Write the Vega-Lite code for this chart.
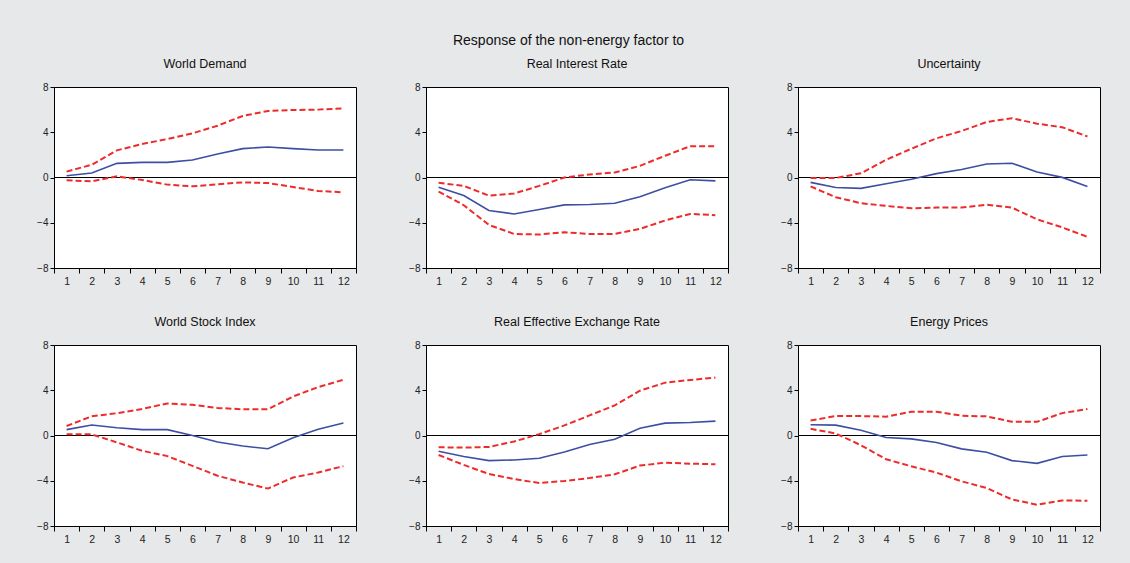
{
  "$schema": "https://vega.github.io/schema/vega-lite/v6.json",
  "background": "#e7e8e9",
  "padding": {"left": 36, "top": 34, "right": 29, "bottom": 19},
  "title": {"text": "Response of the non-energy factor to", "fontSize": 14, "font": "Liberation Sans", "fontWeight": "normal", "color": "#111111", "anchor": "middle", "offset": 9},
  "config": {
    "font": "Liberation Sans",
    "view": {"stroke": "#000000", "strokeWidth": 1, "fill": "#ffffff"},
    "axis": {"domainColor": "#000000", "tickColor": "#000000", "labelColor": "#222222", "grid": false, "title": null, "tickSize": 4}
  },
  "data": {"values": [
    {"p":"World Demand","h":1,"m":0.16,"u":0.52,"l":-0.25},
    {"p":"World Demand","h":2,"m":0.4,"u":1.13,"l":-0.34},
    {"p":"World Demand","h":3,"m":1.25,"u":2.4,"l":0.1},
    {"p":"World Demand","h":4,"m":1.34,"u":2.96,"l":-0.22},
    {"p":"World Demand","h":5,"m":1.34,"u":3.4,"l":-0.63},
    {"p":"World Demand","h":6,"m":1.55,"u":3.9,"l":-0.78},
    {"p":"World Demand","h":7,"m":2.08,"u":4.58,"l":-0.6},
    {"p":"World Demand","h":8,"m":2.55,"u":5.44,"l":-0.43},
    {"p":"World Demand","h":9,"m":2.7,"u":5.88,"l":-0.49},
    {"p":"World Demand","h":10,"m":2.55,"u":5.97,"l":-0.84},
    {"p":"World Demand","h":11,"m":2.43,"u":6.0,"l":-1.19},
    {"p":"World Demand","h":12,"m":2.43,"u":6.11,"l":-1.31},
    {"p":"Real Interest Rate","h":1,"m":-0.86,"u":-0.47,"l":-1.24},
    {"p":"Real Interest Rate","h":2,"m":-1.6,"u":-0.74,"l":-2.45},
    {"p":"Real Interest Rate","h":3,"m":-2.92,"u":-1.6,"l":-4.19},
    {"p":"Real Interest Rate","h":4,"m":-3.22,"u":-1.42,"l":-4.99},
    {"p":"Real Interest Rate","h":5,"m":-2.83,"u":-0.74,"l":-5.04},
    {"p":"Real Interest Rate","h":6,"m":-2.42,"u":0.0,"l":-4.84},
    {"p":"Real Interest Rate","h":7,"m":-2.39,"u":0.27,"l":-4.99},
    {"p":"Real Interest Rate","h":8,"m":-2.27,"u":0.44,"l":-4.99},
    {"p":"Real Interest Rate","h":9,"m":-1.71,"u":1.03,"l":-4.54},
    {"p":"Real Interest Rate","h":10,"m":-0.91,"u":1.92,"l":-3.8},
    {"p":"Real Interest Rate","h":11,"m":-0.2,"u":2.77,"l":-3.22},
    {"p":"Real Interest Rate","h":12,"m":-0.3,"u":2.77,"l":-3.33},
    {"p":"Uncertainty","h":1,"m":-0.43,"u":-0.04,"l":-0.79},
    {"p":"Uncertainty","h":2,"m":-0.88,"u":-0.04,"l":-1.74},
    {"p":"Uncertainty","h":3,"m":-0.96,"u":0.37,"l":-2.27},
    {"p":"Uncertainty","h":4,"m":-0.55,"u":1.56,"l":-2.51},
    {"p":"Uncertainty","h":5,"m":-0.16,"u":2.54,"l":-2.72},
    {"p":"Uncertainty","h":6,"m":0.34,"u":3.46,"l":-2.66},
    {"p":"Uncertainty","h":7,"m":0.7,"u":4.11,"l":-2.66},
    {"p":"Uncertainty","h":8,"m":1.2,"u":4.91,"l":-2.4},
    {"p":"Uncertainty","h":9,"m":1.26,"u":5.24,"l":-2.66},
    {"p":"Uncertainty","h":10,"m":0.49,"u":4.76,"l":-3.7},
    {"p":"Uncertainty","h":11,"m":0.01,"u":4.44,"l":-4.41},
    {"p":"Uncertainty","h":12,"m":-0.79,"u":3.63,"l":-5.25},
    {"p":"World Stock Index","h":1,"m":0.52,"u":0.84,"l":0.1},
    {"p":"World Stock Index","h":2,"m":0.93,"u":1.7,"l":0.1},
    {"p":"World Stock Index","h":3,"m":0.69,"u":1.97,"l":-0.61},
    {"p":"World Stock Index","h":4,"m":0.52,"u":2.35,"l":-1.35},
    {"p":"World Stock Index","h":5,"m":0.52,"u":2.83,"l":-1.82},
    {"p":"World Stock Index","h":6,"m":0.0,"u":2.71,"l":-2.68},
    {"p":"World Stock Index","h":7,"m":-0.58,"u":2.44,"l":-3.56},
    {"p":"World Stock Index","h":8,"m":-0.93,"u":2.32,"l":-4.16},
    {"p":"World Stock Index","h":9,"m":-1.17,"u":2.32,"l":-4.69},
    {"p":"World Stock Index","h":10,"m":-0.19,"u":3.45,"l":-3.71},
    {"p":"World Stock Index","h":11,"m":0.55,"u":4.28,"l":-3.27},
    {"p":"World Stock Index","h":12,"m":1.11,"u":4.93,"l":-2.71},
    {"p":"Real Effective Exchange Rate","h":1,"m":-1.39,"u":-1.04,"l":-1.72},
    {"p":"Real Effective Exchange Rate","h":2,"m":-1.86,"u":-1.07,"l":-2.6},
    {"p":"Real Effective Exchange Rate","h":3,"m":-2.22,"u":-1.01,"l":-3.4},
    {"p":"Real Effective Exchange Rate","h":4,"m":-2.16,"u":-0.53,"l":-3.85},
    {"p":"Real Effective Exchange Rate","h":5,"m":-2.01,"u":0.12,"l":-4.2},
    {"p":"Real Effective Exchange Rate","h":6,"m":-1.45,"u":0.89,"l":-4.02},
    {"p":"Real Effective Exchange Rate","h":7,"m":-0.8,"u":1.78,"l":-3.76},
    {"p":"Real Effective Exchange Rate","h":8,"m":-0.33,"u":2.66,"l":-3.43},
    {"p":"Real Effective Exchange Rate","h":9,"m":0.65,"u":3.96,"l":-2.66},
    {"p":"Real Effective Exchange Rate","h":10,"m":1.09,"u":4.67,"l":-2.4},
    {"p":"Real Effective Exchange Rate","h":11,"m":1.15,"u":4.91,"l":-2.49},
    {"p":"Real Effective Exchange Rate","h":12,"m":1.27,"u":5.12,"l":-2.54},
    {"p":"Energy Prices","h":1,"m":0.95,"u":1.33,"l":0.59},
    {"p":"Energy Prices","h":2,"m":0.92,"u":1.72,"l":0.18},
    {"p":"Energy Prices","h":3,"m":0.47,"u":1.72,"l":-0.86},
    {"p":"Energy Prices","h":4,"m":-0.18,"u":1.66,"l":-2.1},
    {"p":"Energy Prices","h":5,"m":-0.3,"u":2.1,"l":-2.72},
    {"p":"Energy Prices","h":6,"m":-0.62,"u":2.1,"l":-3.28},
    {"p":"Energy Prices","h":7,"m":-1.18,"u":1.75,"l":-4.05},
    {"p":"Energy Prices","h":8,"m":-1.48,"u":1.69,"l":-4.64},
    {"p":"Energy Prices","h":9,"m":-2.22,"u":1.21,"l":-5.65},
    {"p":"Energy Prices","h":10,"m":-2.46,"u":1.21,"l":-6.12},
    {"p":"Energy Prices","h":11,"m":-1.86,"u":1.98,"l":-5.74},
    {"p":"Energy Prices","h":12,"m":-1.72,"u":2.34,"l":-5.77}
  ]},
  "facet": {
    "field": "p", "type": "nominal",
    "sort": ["World Demand","Real Interest Rate","Uncertainty","World Stock Index","Real Effective Exchange Rate","Energy Prices"],
    "header": {"title": null, "labelFontSize": 12.5, "labelFont": "Liberation Sans", "labelColor": "#111111", "labelPadding": 12}
  },
  "columns": 3,
  "spacing": {"column": 51, "row": 28},
  "resolve": {"axis": {"x": "independent", "y": "independent"}},
  "spec": {
    "width": 302,
    "height": 181,
    "encoding": {
      "x": {"field": "h", "type": "ordinal", "scale": {"type": "band", "paddingInner": 0, "paddingOuter": 0},
            "axis": {"labelAngle": 0, "tickBand": "extent", "labelFontSize": 10.5, "labelPadding": 3, "tickSize": 5}}
    },
    "layer": [
      {"mark": {"type": "rule", "color": "#000000", "strokeWidth": 1},
       "encoding": {"x": null, "y": {"datum": 0, "type": "quantitative", "scale": {"domain": [-8, 8]}}}},
      {"mark": {"type": "line", "color": "#ee2b2b", "strokeWidth": 2, "strokeDash": [6, 3]},
       "encoding": {"y": {"field": "u", "type": "quantitative", "scale": {"domain": [-8, 8], "nice": false, "zero": false},
                          "axis": {"values": [-8, -4, 0, 4, 8], "labelFontSize": 10, "tickSize": 4, "labelPadding": 2}}}},
      {"mark": {"type": "line", "color": "#ee2b2b", "strokeWidth": 2, "strokeDash": [6, 3]},
       "encoding": {"y": {"field": "l", "type": "quantitative"}}},
      {"mark": {"type": "line", "color": "#3c4fa3", "strokeWidth": 1.6},
       "encoding": {"y": {"field": "m", "type": "quantitative"}}}
    ]
  }
}
